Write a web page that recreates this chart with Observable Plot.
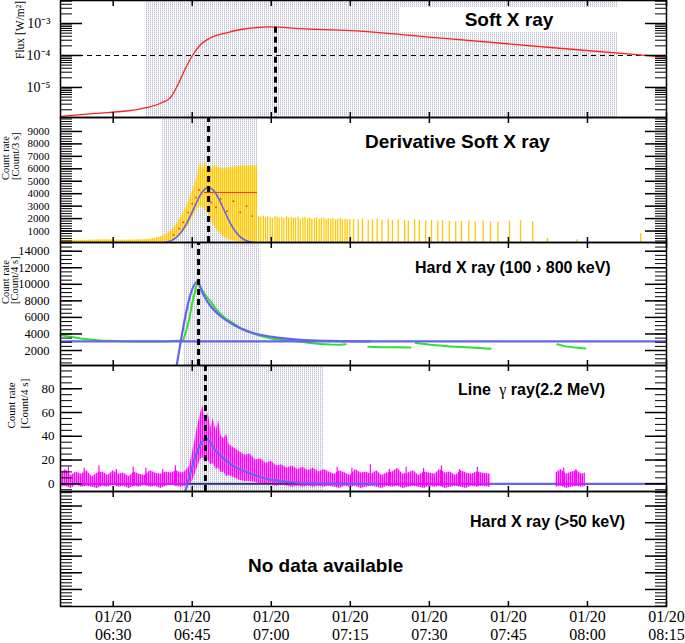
<!DOCTYPE html>
<html>
<head>
<meta charset="utf-8">
<script src="https://cdn.jsdelivr.net/npm/d3@7"></script>
<script src="https://cdn.jsdelivr.net/npm/@observablehq/plot@0.6"></script>
<style>
  body { margin: 0; background: #fff; }
  #chart { position: relative; width: 685px; height: 643px; overflow: hidden; background: #fff; }
  #chart svg { font-family: "Liberation Serif", "Times New Roman", serif !important; }
  .ttl { position: absolute; font-family: "Liberation Sans", Arial, sans-serif; font-weight: bold; color: #000; white-space: nowrap; line-height: 1; }
</style>
</head>
<body>
<svg width="0" height="0" style="position:absolute">
  <defs>
    <pattern id="hatch" patternUnits="userSpaceOnUse" width="2" height="2">
      <rect x="0" y="0" width="1" height="1.5" fill="#c0c0d4"></rect>
    </pattern>
    <pattern id="yelstripe" patternUnits="userSpaceOnUse" width="2" height="4">
      <rect x="0" y="0" width="1.5" height="4" fill="#ffc800"></rect>
    </pattern>
    <pattern id="magstripe" patternUnits="userSpaceOnUse" width="2" height="4">
      <rect x="0" y="0" width="1.5" height="4" fill="#ff00ff"></rect>
    </pattern>
  </defs>
</svg>
<div id="chart"></div>
<script>
// ---------- time axis (minutes after 06:00 UT, 2005-01-20) ----------
const T0 = Date.UTC(2005, 0, 20, 6, 0);
const T = m => new Date(T0 + m * 60000);
const xStart = 20, xEnd = 135;
const xTickMinutes = [30, 45, 60, 75, 90, 105, 120, 135];
const xTickLabels = ["06:30", "06:45", "07:00", "07:15", "07:30", "07:45", "08:00", "08:15"];
const dateLabel = "01/20";

// ---------- panel 1: Soft X ray flux ----------
const sxrT    = [20, 26.6, 33.3, 36.1, 39.0, 40.9, 42.4, 43.7, 45.05, 46.6, 48.5, 51.7, 54.2, 60.0, 65.5, 75.0, 94.0, 113.0, 135.0];
const sxrFlux = [1.24e-6, 1.54e-6, 1.9e-6, 2.3e-6, 3.2e-6, 4.9e-6, 1.33e-5, 3.9e-5, 1.0e-4, 2.2e-4, 3.6e-4, 5.2e-4, 6.5e-4, 7.8e-4, 6.9e-4, 6.0e-4, 3.3e-4, 1.78e-4, 8.9e-5];
const sxrShade = [36.1, 125.9];
const sxrPeakT = 60.8, sxrPeakFlux = 7.6e-4;
const sxrThreshold = 1e-4;

// ---------- panel 2: derivative soft X ray ----------
const dsxBandT  = [20, 24, 28, 32, 36, 38, 39.5, 41, 42, 43, 44, 45, 46, 46.5, 47, 47.5, 48, 49, 50, 51, 52, 53, 54, 55, 56, 57.4];
const dsxBandLo = [0, 0, 0, 0, 0, 50, 100, 250, 450, 800, 1200, 2000, 2800, 3000, 2900, 2700, 2400, 1500, 900, 500, 300, 200, 100, 100, 50, 0];
const dsxBandHi = [280, 250, 300, 260, 300, 400, 600, 1000, 1500, 2200, 3000, 4200, 5500, 6500, 6000, 6600, 5800, 6200, 6100, 6000, 6100, 6150, 6200, 6200, 6250, 6200];
const dsxBarT  = [57.6, 58.0, 58.5, 58.9, 59.3, 59.8, 60.2, 60.7, 61.1, 61.5, 62.0, 62.4, 62.9, 63.3, 63.8, 64.2, 64.6, 65.1, 65.5, 66.0, 66.4, 66.9, 67.3, 67.7, 68.2, 68.6, 69.1, 69.5, 70.0, 70.4, 70.8, 71.3, 71.7, 72.2, 72.6, 73.1, 73.5, 74.0, 74.4, 74.9,
                  75.6, 76.5, 77.3, 78.4, 79.2, 80.1, 81.0, 82.2, 83.0, 84.1, 85.3, 86.0, 87.2, 88.1, 89.3, 90.4, 91.6, 92.5, 93.8, 95.0, 96.1, 97.5, 98.7, 100.2, 101.6, 103.0, 105.2, 107.3, 109.6, 112.4, 118.0, 130.1];
const dsxBarHi = [2150, 2100, 2200, 2050, 2150, 2100, 2000, 2150, 2100, 2050, 2100, 2000, 2150, 2050, 2100, 2000, 2050, 2100, 1950, 2050, 2100, 2000, 2050, 1950, 2000, 2050, 1950, 2000, 2050, 1900, 2000, 1950, 2000, 1900, 1950, 2000, 1900, 1950, 1900, 1950,
                  1950, 1900, 1950, 1850, 1900, 1950, 1850, 1900, 1850, 1900, 1850, 1800, 1900, 1850, 1800, 1850, 1800, 1850, 1800, 1750, 1800, 1800, 1750, 1800, 1750, 1700, 1800, 1850, 1750, 400, 300, 800];
const dsxRedT = [41.5, 42.5, 43.3, 44.2, 45.0, 45.7, 46.3, 47.8, 48.6, 49.5, 50.4, 51.6, 52.8, 54.1, 55.3, 56.4];
const dsxRedV = [700, 1200, 1700, 2500, 3200, 3700, 4300, 4500, 3300, 2900, 3600, 2600, 3400, 2500, 3000, 2200];
const dsxRedLine = {t1: 47.3, t2: 57.4, v: 4100};
const dsxFitT = [37, 38, 40, 42, 43, 44, 45, 46, 47, 48, 49, 50, 51, 52, 53, 54, 56, 58];
const dsxFitV = [0, 10, 91, 494, 959, 1657, 2541, 3462, 4187, 4500, 4288, 3630, 2729, 1822, 1080, 568, 110, 13];
const dsxShade = [39.4, 57.4];
const dsxPeakT = 48.1;

// ---------- panel 3: hard X ray 100-800 keV ----------
const hxrT = [20, 21.9, 23.8, 25.7, 27.6, 30.4, 33.3, 37.1, 39.9, 42.8, 43.3, 43.9, 44.5, 45.05, 45.6, 46.0, 46.4, 46.95, 47.7, 48.5, 49.4, 50.4, 51.3, 52.3, 53.2, 54.2, 55.7, 57.0, 58.3, 59.9, 61.7, 63.6, 65.5, 67.4, 69.3, 71.2, 73.1, 74.1,
              74.6, 78.4, 80.7, 83.6, 86.4, 86.9, 87.4, 90.2, 94.0, 97.8, 101.6, 108, 114.3, 115.8, 117.7, 119.6];
const hxrV = [3830, 3650, 3460, 3330, 3220, 3150, 3100, 3080, 3100, 3200, 3250, 4500, 6000, 7900, 9300, 10500, 9800, 9200, 8500, 7900, 7100, 6400, 5900, 5500, 5100, 4700, 4300, 3950, 3700, 3460, 3300, 3200, 3050, 2900, 2800, 2720, 2700, 2750,
              null, 2450, 2400, 2380, 2350, null, 2900, 2700, 2500, 2350, 2200, null, 2750, 2500, 2350, 2250];
const hxrBase = 3100;
const hxrFitT = [42.0, 46.0, 47.0, 48.5, 50.4, 52.3, 54.2, 56.1, 59.9, 65.5, 71.2, 78.8];
const hxrFitV = [0, 10300, 8900, 7350, 6140, 5320, 4650, 4190, 3670, 3280, 3160, 3100];
const hxrShade = [43.3, 58.0];
const hxrPeakT = 46.2;

// ---------- panel 4: line gamma ray 2.2 MeV ----------
const gamT = [20, 21, 22, 23, 24, 25, 26, 27, 28, 29, 30, 31, 32, 33, 34, 35, 36, 37, 38, 39, 40, 41, 42, 43,
              43.5, 44, 44.5, 45, 45.5, 46, 46.5, 47, 47.5, 48, 48.5, 49, 49.5, 50, 50.5, 51, 51.5, 52, 53, 54, 55, 56, 57, 58, 59, 60, 61, 62, 63, 64, 65, 66, 67, 68, 69, 70,
              71, 72, 73, 74, 75, 76, 77, 78, 79, 80, 81, 82, 83, 84, 85, 86, 87, 88, 89, 90, 91, 92, 93, 94, 95, 96, 97, 98, 99, 100, 101.6,
              108, 114, 115, 116, 117, 118, 119, 119.6];
const gamHi = [9, 12, 7, 10, 8, 11, 6, 9, 10, 7, 11, 8, 9, 6, 10, 8, 7, 11, 9, 8, 10, 9, 11, 9,
               10, 12, 15, 25, 36, 48, 58, 66, 52, 60, 47, 55, 44, 53, 40, 38, 42, 33, 30, 27, 24, 25, 20, 21, 17, 19, 15, 16, 13, 15, 12, 14, 11, 13, 10, 12,
               10, 8, 11, 9, 7, 12, 9, 10, 8, 11, 7, 9, 10, 13, 8, 9, 11, 7, 10, 9, 8, 12, 9, 10, 7, 11, 9, 8, 10, 9, 8,
               null, 9, 12, 8, 10, 11, 8, 9];
const gamLo = [-3, -2, -4, -1, -3, -2, -3, -4, -2, -3, -1, -3, -2, -4, -2, -3, -1, -3, -2, -4, -2, -1, -2, -3,
               -2, -2, -1, 2, 7, 14, 20, 22, 18, 20, 16, 17, 12, 13, 9, 10, 6, 7, 5, 3, 2, 2, 1, 0, 0, -1, -2, -1, -2, -3, -2, -3, -2, -3, -2, -3,
               -2, -3, -4, -2, -3, -2, -4, -3, -2, -3, -4, -2, -3, -2, -4, -3, -2, -3, -4, -2, -3, -2, -4, -3, -2, -3, -4, -2, -3, -2, -3,
               null, -3, -2, -4, -3, -2, -3, -2];
const gamSpikeT = [21.5, 24.5, 27.3, 30.6, 33.8, 36.2, 39.4, 41.8, 72.5, 75.3, 78.8, 82.4, 85.6, 88.9, 92.3, 95.7, 99.1, 115.5, 117.8];
const gamSpikeV = [14, 13, 15, 12, 14, 13, 12, 15, 14, 13, 16, 12, 14, 13, 15, 12, 14, 13, 12];
const gamFitT = [43.7, 47.7, 49.4, 51.3, 53.2, 56.1, 58.9, 61.75, 65.5, 71.2, 80];
const gamFitV = [-6.5, 38, 28, 20, 14, 8.5, 4.5, 2.2, 0.8, 0.2, 0];
const gamZeroLine = [44.5, 71];
const gamShade = [42.8, 69.9];
const gamPeakT = 47.5;

// ---------- axis ticks ----------
const p1Major = [1e-5, 1e-4, 1e-3];
const p1Minor = [2e-6,3e-6,4e-6,5e-6,6e-6,7e-6,8e-6,9e-6,2e-5,3e-5,4e-5,5e-5,6e-5,7e-5,8e-5,9e-5,2e-4,3e-4,4e-4,5e-4,6e-4,7e-4,8e-4,9e-4,2e-3,3e-3,4e-3,5e-3];
const p2Labels = [1000, 2000, 3000, 4000, 5000, 6000, 7000, 8000, 9000];
const p3Labels = [2000, 4000, 6000, 8000, 10000, 12000, 14000];
const p4Labels = [0, 20, 40, 60, 80];
const p5Major = [0, 1, 2, 3, 4, 5];

// ---------- helpers ----------
const chart = document.getElementById("chart");
const xTicks = xTickMinutes.map(T);
const range = (a, b, s) => d3.range(a, b + s / 2, s);
const intFmt = d => String(d);

function axesFor(major, minor, minorLen = 12) {
  return [
    Plot.axisX({anchor: "bottom", ticks: xTicks, tickSize: 5, dy: -5, fill: "none", strokeWidth: 1.5, label: null}),
    Plot.axisX({anchor: "top", ticks: xTicks, tickSize: 5, dy: 5, fill: "none", strokeWidth: 1.5, label: null}),
    Plot.axisY({anchor: "left", ticks: minor, tickSize: minorLen, dx: minorLen, fill: "none", strokeWidth: 1, label: null}),
    Plot.axisY({anchor: "left", ticks: major, tickSize: 22, dx: 22, fill: "none", strokeWidth: 1.5, label: null}),
    Plot.axisY({anchor: "right", ticks: minor, tickSize: minorLen, dx: -minorLen, fill: "none", strokeWidth: 1, label: null}),
    Plot.axisY({anchor: "right", ticks: major, tickSize: 22, dx: -22, fill: "none", strokeWidth: 1.5, label: null}),
    Plot.frame({stroke: "#000", strokeWidth: 1.5})
  ];
}
function yTitle(lines, dxs, size = 11) {
  return lines.map((s, i) => Plot.text([s], {frameAnchor: "left", dx: dxs[i], rotate: -90, fontSize: size, text: d => d, fill: "#000"}));
}
function shade(iv) {
  return Plot.rect([iv], {x1: d => T(d[0]), x2: d => T(d[1]), fill: "url(#hatch)"});
}
function dashV(t, y1, y2) {
  return Plot.ruleX([t], {x: d => T(d), y1: () => y1, y2: () => y2, stroke: "#000", strokeWidth: 3, strokeDasharray: "6,4"});
}
function panel(top, h, mb, yOpts, marks) {
  const svg = Plot.plot({
    width: 685, height: h + mb,
    marginLeft: 60, marginRight: 19, marginTop: 0, marginBottom: mb,
    style: {background: "transparent", overflow: "visible", fontSize: "13px", color: "#000"},
    x: {type: "utc", domain: [T(xStart), T(xEnd)]},
    y: yOpts,
    marks
  });
  svg.style.position = "absolute";
  svg.style.left = "0px";
  svg.style.top = top + "px";
  svg.style.overflow = "visible";
  chart.appendChild(svg);
}
const rows = (ts, ...cols) => ts.map((t, i) => ({t: T(t), a: cols[0] ? cols[0][i] : null, b: cols[1] ? cols[1][i] : null}));
const supers = {"-": "\u207B", "0": "\u2070", "1": "\u00B9", "2": "\u00B2", "3": "\u00B3", "4": "\u2074", "5": "\u2075", "6": "\u2076", "7": "\u2077", "8": "\u2078", "9": "\u2079"};
const powFmt = d => "10" + String(Math.round(Math.log10(d))).split("").map(c => supers[c]).join("");

// ---------- panel 1 ----------
const p1Dom = [Math.pow(10, -5.94), Math.pow(10, -2.28)];
panel(0, 117, 0, {type: "log", domain: p1Dom}, [
  shade(sxrShade),
  Plot.ruleY([sxrThreshold], {stroke: "#000", strokeWidth: 1.2, strokeDasharray: "5,4"}),
  Plot.line(rows(sxrT, sxrFlux), {x: "t", y: "a", stroke: "#ff2020", strokeWidth: 1.3, curve: "monotone-x"}),
  dashV(sxrPeakT, sxrPeakFlux, p1Dom[0]),
  ...axesFor(p1Major, p1Minor),
  Plot.axisY({anchor: "left", ticks: p1Major, tickSize: 0, tickPadding: 10, tickFormat: powFmt, fontSize: 14, label: null}),
  ...yTitle(["Flux [W/m\u00B2]"], [-40], 11.5)
]);

// ---------- panel 2 ----------
panel(117, 125, 0, {domain: [80, 10120]}, [
  shade(dsxShade),
  Plot.areaY(rows(dsxBandT, dsxBandLo, dsxBandHi), {x: "t", y1: "a", y2: "b", fill: "url(#yelstripe)"}),
  Plot.ruleX(rows(dsxBarT, dsxBarHi), {x: "t", y1: 0, y2: "a", stroke: "#ffc800", strokeWidth: 1.3, clip: true}),
  Plot.ruleY([dsxRedLine], {x1: d => T(d.t1), x2: d => T(d.t2), y: "v", stroke: "#ff3300", strokeWidth: 1}),
  Plot.dot(rows(dsxRedT, dsxRedV), {x: "t", y: "a", r: 0.9, fill: "#ff3300"}),
  Plot.line(rows(dsxFitT, dsxFitV), {x: "t", y: "a", stroke: "#6464f0", strokeWidth: 1.6, curve: "monotone-x", clip: true}),
  dashV(dsxPeakT, 80, 10120),
  ...axesFor(range(1000, 9000, 1000), range(200, 10000, 200)),
  Plot.axisY({anchor: "left", ticks: p2Labels, tickSize: 0, tickPadding: 11, tickFormat: intFmt, fontSize: 11, label: null}),
  ...yTitle(["Count rate", "[Count/3 s]"], [-55, -45], 10.5)
]);

// ---------- panel 3 ----------
panel(242, 123, 0, {domain: [190, 15050]}, [
  shade(hxrShade),
  Plot.line(rows(hxrT, hxrV), {x: "t", y: "a", stroke: "#30e030", strokeWidth: 2}),
  Plot.ruleY([hxrBase], {stroke: "#6464f0", strokeWidth: 2.2}),
  Plot.line(rows(hxrFitT, hxrFitV), {x: "t", y: "a", stroke: "#6464f0", strokeWidth: 2.2, curve: "monotone-x", clip: true}),
  dashV(hxrPeakT, 190, 15050),
  ...axesFor(range(2000, 14000, 2000), range(500, 15000, 500)),
  Plot.axisY({anchor: "left", ticks: p3Labels, tickSize: 0, tickPadding: 11, tickFormat: intFmt, fontSize: 12.5, label: null}),
  ...yTitle(["Count rate", "[Count/4 s]"], [-55, -46], 10.5)
]);

// ---------- panel 4 ----------
panel(365, 126, 0, {domain: [-6.5, 99.6]}, [
  shade(gamShade),
  Plot.ruleY([0], {stroke: "#6464f0", strokeWidth: 2.2}),
  Plot.areaY(rows(gamT, gamLo, gamHi), {x: "t", y1: "a", y2: "b", fill: "url(#magstripe)", clip: true}),
  Plot.ruleX(rows(gamSpikeT, gamSpikeV), {x: "t", y1: -2, y2: "a", stroke: "#ff00ff", strokeWidth: 1.2}),
  Plot.ruleY([gamZeroLine], {x1: d => T(d[0]), x2: d => T(d[1]), y: () => 0, stroke: "#222", strokeWidth: 1}),
  Plot.line(rows(gamFitT, gamFitV), {x: "t", y: "a", stroke: "#6464f0", strokeWidth: 2.2, curve: "monotone-x", clip: true}),
  dashV(gamPeakT, -6.5, 99.6),
  ...axesFor(range(0, 80, 20), range(-5, 95, 5)),
  Plot.axisY({anchor: "left", ticks: p4Labels, tickSize: 0, tickPadding: 6, tickFormat: intFmt, fontSize: 13, label: null}),
  ...yTitle(["Count rate", "[Count/4 s]"], [-49, -36], 11)
]);

// ---------- panel 5 ----------
panel(491, 115, 37, {domain: [-1.02, 5.87]}, [
  ...axesFor(p5Major, range(-1, 5.8, 0.2)),
  Plot.axisX({anchor: "bottom", ticks: xTicks, tickSize: 0, tickPadding: 2, fontSize: 16, lineHeight: 1.15,
    tickFormat: d => dateLabel + "\n" + xTickLabels[xTicks.findIndex(x => +x === +d)], label: null})
]);

// ---------- panel titles ----------
const titles = [
  {text: "Soft X ray", left: 400, top: 7, size: 19, box: true},
  {text: "Derivative Soft X ray", left: 365, top: 132, size: 19},
  {text: "Hard X ray (100 \u203A 800 keV)", left: 415, top: 260, size: 16},
  {html: "Line <span style=\"font-family:'Liberation Serif',serif;font-weight:normal\">&nbsp;\u03B3</span> ray(2.2 MeV)", left: 458, top: 382, size: 16},
  {text: "Hard X ray (>50 keV)", left: 470, top: 514, size: 16},
  {text: "No data available", left: 248, top: 556, size: 19}
];
titles.forEach(t => {
  const d = document.createElement("div");
  d.className = "ttl";
  if (t.html) d.innerHTML = t.html; else d.textContent = t.text;
  d.style.left = t.left + "px";
  d.style.top = t.top + "px";
  d.style.fontSize = t.size + "px";
  if (t.box) {
    d.style.width = "218px"; d.style.height = "25px"; d.style.lineHeight = "25px";
    d.style.textAlign = "center"; d.style.background = "#fff";
  }
  chart.appendChild(d);
});
</script>
</body>
</html>
